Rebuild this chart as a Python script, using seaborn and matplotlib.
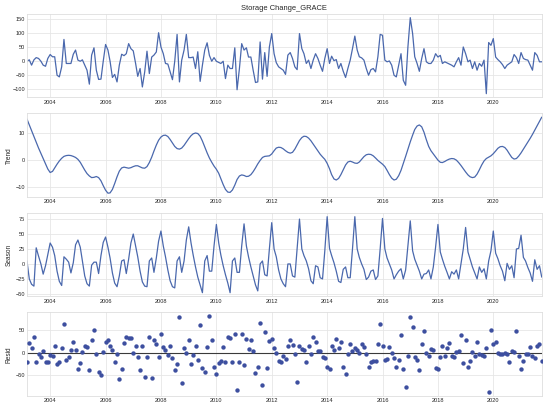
import numpy as np
import pandas as pd
import matplotlib
matplotlib.use("Agg")
import matplotlib.pyplot as plt
import matplotlib.dates as mdates
from matplotlib.ticker import MultipleLocator
import seaborn as sns

title = "Storage Change_GRACE"
start_month = "2003-03-01"
panel_labels = ["", "Trend", "Season", "Resid"]

observed = [
    0, 5, -14, 5, 13, 10, 0, -14, -18, 10,
    24, 16, 16, -50, -56, -20, 78, -8, -8, -8,
    25, 40, 4, 0, 5, -14, -32, -82, 22, 48,
    -32, -65, -64, 0, 60, 40, 0, -58, -47, -74,
    -14, 25, 20, 27, 63, 45, 37, -8, -54, -26,
    -92, -38, 36, -44, 15, 22, 33, 102, 51, 27,
    -8, -10, -38, -66, 0, 96, -74, 4, 40, 96,
    13, 13, 15, -26, 34, -72, -14, 40, 66, 21,
    0, 13, 0, -4, -8, 0, -62, -14, -26, -26,
    48, -102, -26, 63, 40, 48, 15, 15, -32, -76,
    -74, 69, -64, 31, -54, 51, 99, 27,
    -5, -20, -26, -32, -47, 22, 31, 10, -20, -30,
    99, 45, 27, -8, 4, -26, 4, 27, 10, -14,
    -36, 10, 45, -8, 18, 2, 6, -26, -8, -36,
    -58, -26, 4, 45, 90, 40, 16, 12, 4, -26,
    -50, -30, -26, -38, 16, 96, 93, 4, -2, 1,
    -14, -50, -56, -14, 27, -68, -86, 51, 156, 99,
    16, -8, -36, 10, 45, -2, -8, -8, 4, 27,
    15, 21, -8, -2, -6, -10, -14, -20, -2, 13,
    -14, 51, 27, -2, 4, -26, -2, -32, -8, -18,
    4, -116, 67, 57, 81, 15, 6, -2, -12, -26,
    -14, -8, -2, 24, 13, -8, 31, 10, 6, 4,
    -14, -32, 31, 21, -2, -2,
]

trend = [
    15.2, 13.0, 10.8, 8.6, 6.5, 4.4, 2.4, 0.4, -1.6, -3.4,
    -4.7, -4.3, -3.0, -1.6, -0.4, 0.6, 1.3, 1.6, 1.7, 1.6,
    1.3, 0.9, 0.2, -0.9, -2.3, -3.8, -5.1, -6.0, -6.6, -6.5,
    -6.2, -6.6, -7.8, -9.6, -11.3, -12.4, -12.3, -11.0, -8.8, -6.3,
    -4.2, -3.0, -2.7, -2.9, -3.1, -2.9, -2.5, -2.2, -2.2, -2.6,
    -3.0, -3.1, -2.5, -1.0, 1.0, 3.3, 5.5, 7.3, 8.5, 9.1,
    9.2, 8.7, 7.6, 6.3, 5.0, 4.2, 4.0, 4.4, 5.4, 6.6,
    7.9, 9.0, 9.7, 10.0, 9.8, 8.8, 7.0, 4.8, 2.6, 0.7,
    -0.9, -2.3, -3.5, -5.0, -7.0, -9.2, -11.0, -12.0, -12.1, -11.2,
    -9.4, -7.3, -6.0, -5.6, -5.8, -6.2, -6.1, -5.5, -4.4, -3.0,
    -1.5, -0.2, 0.9, 1.3, 1.4, 1.5, 2.2, 3.4, 4.4, 4.7,
    4.6, 4.1, 3.4, 2.8, 2.5, 2.8, 4.0, 5.6, 7.2, 8.3,
    8.8, 8.7, 8.1, 7.1, 5.9, 4.6, 3.3, 2.1, 1.1, 0.2,
    -1.3, -3.3, -5.5, -7.1, -7.5, -6.9, -5.5, -3.7, -1.9, -0.8,
    -0.5, -0.8, -1.2, -1.3, -0.8, 0.2, 1.2, 1.9, 2.1, 2.0,
    1.5, 0.7, -0.2, -0.9, -1.6, -2.5, -3.9, -5.5, -6.8, -7.5,
    -7.2, -5.9, -3.9, -1.4, 1.3, 4.0, 6.7, 9.2, 11.3, 12.6,
    13.0, 12.3, 10.3, 7.5, 5.0, 3.4, 2.2, 1.0, -0.1, -0.9,
    -1.0, -0.6, -0.1, 0.3, 0.5, 0.4, -0.1, -1.0, -2.1, -3.3,
    -4.5, -5.6, -6.3, -6.6, -6.4, -5.3, -3.7, -1.9, -0.4, 0.5,
    1.0, 1.5, 2.3, 3.3, 4.3, 4.9, 5.0, 4.6, 3.6, 2.2,
    0.9, 0.3, 0.5, 1.4, 2.6, 4.0, 5.3, 6.7, 8.0, 9.5,
    11.1, 12.7, 14.3, 15.9,
]

season = [
    5, -25, -34, -37, 27, 13, 0, -17, -3, 16,
    35, 28, 14, -12, -29, -36, 12, 8, 3, -15, 2, 32,
    40, 28, 5, -20, -33, -37, -2, 3, 3, -16, 14, 36,
    45, 28, 10, -15, -32, -38, -20, 5, 7, -16, 8, 35,
    50, 30, 12, -12, -30, -37, -38, 5, 10, -14, 10, 38,
    55, 30, 12, -10, -28, -38, -40, 5, 12, -14, 5, 40,
    62, 35, 15, -5, -22, -35, -48, 5, 14, -12, -12, 30,
    66, 35, 15, -3, -18, -32, -48, 5, 10, -14, -14, 30,
    67, 30, 12, -5, -20, -35, -45, 0, 5, -18, -20, 25,
    69, 25, 12, -10, -25, -33, -38, 0, 0, -20, -22, 25,
    75, 25, 14, 5, -8, -28, -33, -3, -5, -23, -25, 22,
    79, 26, 14, 2, -12, -29, -31, -9, -5, -23, -23, 25,
    79, 25, 11, 0, -9, -26, -22, -12, -10, -26, -20, 25,
    76, 25, 10, 0, -10, -25, -18, -12, -8, -25, -10, 30,
    72, 22, 8, -2, -12, -25, -17, -16, -10, -25, -5, 28,
    66, 20, 8, -4, -14, -25, -13, -17, -10, -25, 0, 25,
    61, 20, 8, -5, -15, -25, -5, -14, -8, -25, 5, 22,
    55, 18, 9, -3, -12, -28, 1, -9, -3, -23, 25, 26,
    48, 11, 5, -6, -15, -29, 7, -9, -3, -22,
]

resid = [
    -22, 21, 11, 36, -21, -2, -9, 4, -21, -22,
    -5, -7, 15, -25, -20, 11, 65, -17, -10, 6,
    25, 5, -36, -24, 2, 16, 13, -40, 28, 52,
    -2, -43, -51, 2, 25, 28, 16, 5, -20, -4,
    -60, -36, 21, 36, 34, 34, -1, 16, -10, -40,
    15, -54, -10, 35, -56, 28, 20, -10, 41, 13,
    6, -5, 16, -11, -40, -26, 80, -69, 10, 0,
    28, -25, -5, 16, -17, 63, -34, -43, 13, 82,
    28, -32, -49, -24, -19, 13, -20, 35, 34, -20,
    43, -84, -20, 41, -28, 31, 9, 28, 4, -45,
    -32, 67, -72, 47, -35, 26, 30, 11,
    0, -18, -21, -7, -14, 16, 28, 18, -2, -66,
    16, 8, 5, -22, 14, -4, 35, 24, 3, 3,
    -10, -13, -32, -36, 14, 5, 31, 10, 24, -33,
    -49, -3, 19, 4, 10, 7, -1, 19, 12, -3,
    -33, -22, -19, -18, 20, 64, 14, -16, -14, 13,
    -1, -12, -32, -16, 40, -37, -77, -7, 81, 57,
    -10, -17, -40, 20, 49, -1, -7, 9, 7, -34,
    -37, -10, 16, -8, 10, 22, -8, -10, 2, 4, 40,
    -23, 28, -32, -19, 1, -7, 23, -3, -6, -8,
    10, -89, 51, 20, 24, -1, -2, -3, -1, -4,
    -21, 3, 1, 49, -8, -37, -19, -2, -3, 13,
    -8, -13, 16, 19, -18,
]

n = min(len(observed), len(trend), len(season), len(resid))
dates = pd.date_range(start_month, periods=n, freq="MS")
df = pd.DataFrame({
    "date": dates,
    "observed": observed[:n],
    "trend": trend[:n],
    "season": season[:n],
    "resid": resid[:n],
})

sns.set_style("whitegrid", {"grid.color": "#e6e6e6", "axes.edgecolor": "#dedede"})
plt.rcParams["font.family"] = ["Liberation Sans", "DejaVu Sans"]
plt.rcParams["text.color"] = "#262626"
plt.rcParams["xtick.color"] = "#262626"
plt.rcParams["ytick.color"] = "#262626"

line_color = "#4A68AD"
dot_color = "#3D4F9F"
fig, axes = plt.subplots(4, 1, figsize=(5.5, 4.07), dpi=100)
fig.subplots_adjust(left=0.049, right=0.985, top=0.966, bottom=0.027, hspace=0.19)

cols = ["observed", "trend", "season", "resid"]
steps = [50, 10, 25, 50]
for ax, col, lab, st in zip(axes, cols, panel_labels, steps):
    if col == "resid":
        ax.axhline(0, color="#3a3a3a", lw=0.8, zorder=1)
        sns.scatterplot(data=df, x="date", y=col, ax=ax, color=dot_color, s=10,
                        linewidth=0, zorder=3)
    else:
        sns.lineplot(data=df, x="date", y=col, ax=ax, color=line_color, linewidth=0.9)
    ax.set_xlim(df["date"].iloc[0], df["date"].iloc[-1])
    ax.xaxis.set_major_locator(mdates.YearLocator(2))
    ax.xaxis.set_major_formatter(mdates.DateFormatter("%Y"))
    ax.yaxis.set_major_locator(MultipleLocator(st))
    ax.tick_params(labelsize=4.1, pad=1.5, length=0)
    ax.set_xlabel("")
    ax.set_ylabel(lab, fontsize=4.7, labelpad=2)
    for s in ax.spines.values():
        s.set_linewidth(0.6)
    ax.grid(True, linewidth=0.6)

axes[0].set_title(title, fontsize=5.4, pad=3)

fig.savefig("out.png", dpi=100)
